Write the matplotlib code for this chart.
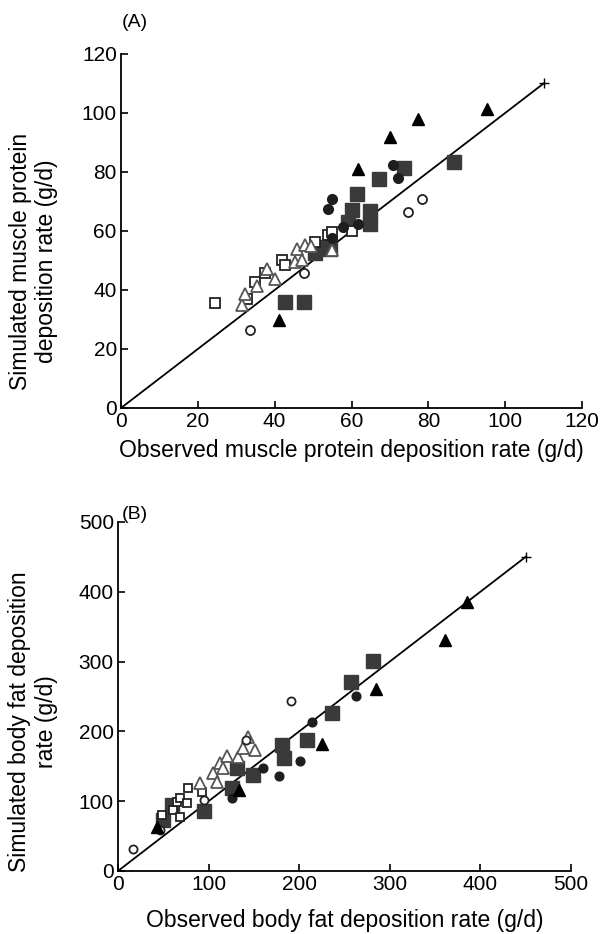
import matplotlib
matplotlib.use("Agg")
import matplotlib.pyplot as plt

plt.rcParams['font.family'] = ['Liberation Sans', 'DejaVu Sans']

# ---------------- Panel A: muscle protein deposition (g/d) ----------------
a_filled_tri_x = [41.0, 61.8, 70.1, 77.3, 95.2]
a_filled_tri_y = [29.8, 80.9, 91.8, 97.9, 101.3]
a_filled_circ_x = [54.9, 53.8, 70.7, 72.0, 57.9, 61.8, 54.9]
a_filled_circ_y = [70.8, 67.3, 82.4, 77.9, 61.5, 62.4, 57.5]
a_open_circ_x = [33.6, 47.7, 74.8, 78.3]
a_open_circ_y = [26.4, 45.7, 66.5, 70.7]
a_filled_sq_x = [42.7, 47.7, 50.5, 52.3, 54.5, 59.2, 60.1, 64.8, 64.8, 61.5, 67.1, 73.7, 86.7]
a_filled_sq_y = [36.0, 36.0, 52.7, 54.7, 54.0, 63.2, 67.1, 66.8, 62.4, 72.4, 77.6, 81.2, 83.5]
a_open_sq_x = [24.5, 32.7, 35.0, 37.5, 41.8, 42.7, 50.6, 54.0, 54.9, 60.1]
a_open_sq_y = [35.5, 37.1, 42.8, 45.6, 50.2, 48.4, 56.4, 58.6, 59.8, 60.0]
a_open_tri_x = [31.4, 32.3, 35.3, 37.9, 40.2, 45.3, 45.8, 47.0, 47.9, 49.5, 54.9]
a_open_tri_y = [34.9, 38.5, 41.5, 47.0, 43.6, 49.6, 53.8, 50.2, 55.3, 55.0, 53.6]
a_line = [0, 110]

# ---------------- Panel B: body fat deposition (g/d) ----------------
b_filled_tri_x = [42.7, 133.9, 224.8, 284.8, 360.4, 384.8]
b_filled_tri_y = [63.5, 116.0, 182.0, 260.7, 331.0, 385.8]
b_filled_circ_x = [125.5, 160.4, 178.0, 200.9, 214.0, 262.7]
b_filled_circ_y = [104.0, 148.0, 135.5, 158.0, 213.0, 250.7]
b_open_circ_x = [16.9, 46.4, 95.3, 141.3, 191.0]
b_open_circ_y = [31.1, 58.7, 101.7, 187.7, 243.0]
b_filled_sq_x = [50.0, 59.1, 95.3, 125.5, 131.0, 149.4, 180.5, 183.2, 209.0, 235.9, 256.8, 281.8]
b_filled_sq_y = [73.0, 94.6, 86.0, 118.5, 147.1, 137.5, 181.0, 162.0, 187.7, 225.9, 271.2, 301.3]
b_open_sq_x = [48.2, 61.0, 65.0, 68.4, 68.4, 76.2, 77.6, 92.3]
b_open_sq_y = [80.2, 87.4, 99.3, 77.8, 104.0, 97.0, 118.5, 113.5]
b_open_tri_x = [90.5, 105.2, 108.9, 112.6, 116.4, 132.8, 138.2, 143.8, 151.2, 120.0]
b_open_tri_y = [126.0, 140.0, 128.0, 155.0, 147.0, 163.7, 175.8, 192.4, 173.4, 165.0]
b_line = [0, 450]

fig = plt.figure(figsize=(6.0, 9.34), dpi=100)
axA = fig.add_axes([0.2017, 0.5632, 0.7683, 0.379])
axB = fig.add_axes([0.1967, 0.0675, 0.755, 0.3737])

DARK = '#3a3a3a'


def draw(ax, d, line, scale):
    (ft_x, ft_y, fc_x, fc_y, oc_x, oc_y, fs_x, fs_y, os_x, os_y, ot_x, ot_y) = d
    ax.plot(line, line, color='black', lw=1.3, zorder=2)
    ax.plot([line[1]], [line[1]], marker='+', color='black', ms=7, mew=1.0, zorder=3)
    ax.plot(fs_x, fs_y, ls='none', marker='s', ms=10.5 * scale, mfc=DARK, mec=DARK, zorder=3)
    ax.plot(os_x, os_y, ls='none', marker='s', ms=7 * scale, mfc='white', mec='#222222', mew=1.3, zorder=4)
    ax.plot(ot_x, ot_y, ls='none', marker='^', ms=9 * scale, mfc='white', mec='#555555', mew=1.3, zorder=4)
    ax.plot(oc_x, oc_y, ls='none', marker='o', ms=6.5 * scale, mfc='white', mec='#222222', mew=1.3, zorder=4)
    ax.plot(fc_x, fc_y, ls='none', marker='o', ms=7 * scale, mfc='#1e1e1e', mec='#1e1e1e', zorder=5)
    ax.plot(ft_x, ft_y, ls='none', marker='^', ms=9 * scale, mfc='black', mec='black', zorder=5)
    for s in ['top', 'right']:
        ax.spines[s].set_visible(False)
    for s in ['left', 'bottom']:
        ax.spines[s].set_linewidth(1.3)
    ax.tick_params(direction='in', length=5, width=1.2, labelsize=15, pad=3)


draw(axA, (a_filled_tri_x, a_filled_tri_y, a_filled_circ_x, a_filled_circ_y,
           a_open_circ_x, a_open_circ_y, a_filled_sq_x, a_filled_sq_y,
           a_open_sq_x, a_open_sq_y, a_open_tri_x, a_open_tri_y), a_line, 1.0)
axA.set_xlim(0, 120)
axA.set_ylim(0, 120)
axA.set_xticks(range(0, 121, 20))
axA.set_yticks(range(0, 121, 20))
axA.set_xlabel('Observed muscle protein deposition rate (g/d)', fontsize=16.5, labelpad=6)
axA.set_ylabel('Simulated muscle protein\ndeposition rate (g/d)', fontsize=16.5)
axA.yaxis.set_label_coords(-0.136, 0.415)
fig.text(0.203, 0.976, '(A)', fontsize=14, ha='left', va='center')

draw(axB, (b_filled_tri_x, b_filled_tri_y, b_filled_circ_x, b_filled_circ_y,
           b_open_circ_x, b_open_circ_y, b_filled_sq_x, b_filled_sq_y,
           b_open_sq_x, b_open_sq_y, b_open_tri_x, b_open_tri_y), b_line, 0.9)
axB.set_xlim(0, 500)
axB.set_ylim(0, 500)
axB.set_xticks(range(0, 501, 100))
axB.set_yticks(range(0, 501, 100))
axB.set_xlabel('Observed body fat deposition rate (g/d)', fontsize=16.5, labelpad=11)
axB.set_ylabel('Simulated body fat deposition\nrate (g/d)', fontsize=16.5)
axB.yaxis.set_label_coords(-0.133, 0.427)
fig.text(0.203, 0.449, '(B)', fontsize=14, ha='left', va='center')

fig.savefig('out.png', dpi=100)
